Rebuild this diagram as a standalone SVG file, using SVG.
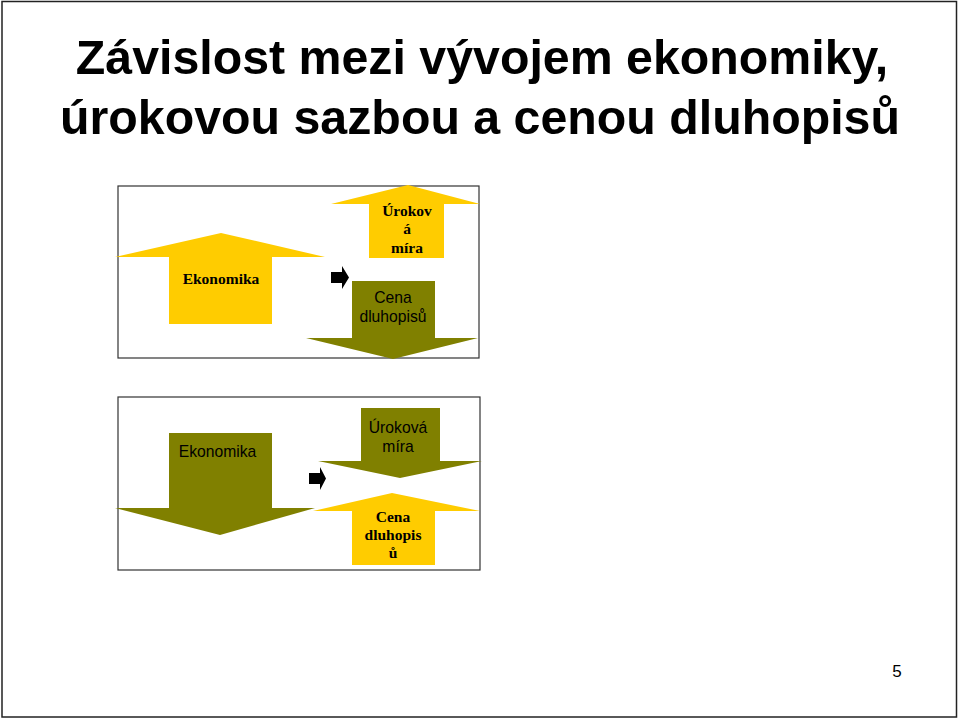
<svg xmlns="http://www.w3.org/2000/svg" width="960" height="719" viewBox="0 0 960 719">
<style>
.frame{fill:#fff;stroke:#333;stroke-width:1.2}
.yel{fill:#FFCC00}
.olv{fill:#808000}
.blk{fill:#000}
.title{font-family:"Liberation Sans",Arial,sans-serif;font-weight:bold;font-size:48.3px;fill:#000;text-anchor:middle}
.ts{font-family:"Liberation Serif","Times New Roman",serif;font-weight:bold;font-size:15.5px;fill:#000;text-anchor:middle}
.ss{font-family:"Liberation Sans",Arial,sans-serif;font-size:15.7px;fill:#000;text-anchor:middle}
</style>
<rect x="0" y="0" width="960" height="719" fill="#fff"/>
<rect x="2" y="1.5" width="954.5" height="715.5" fill="none" stroke="#222" stroke-width="1.5"/>
<g id="title">
<text class="title" x="482" y="74">Závislost mezi vývojem ekonomiky,</text>
<text class="title" x="480" y="134">úrokovou sazbou a cenou dluhopisů</text>
</g>
<g id="panel1">
<rect class="frame" x="118" y="186" width="361" height="172"/>
<g id="p1-ekonomika">
<polygon class="yel" points="169,324 169,257 115,257 221,233 325,257 272,257 272,324"/>
<text class="ts" x="221" y="284">Ekonomika</text>
</g>
<g id="p1-urokova">
<polygon class="yel" points="369,258 369,204 331,204 408,185 480,204 444,204 444,258"/>
<text class="ts" x="407" y="216">Úrokov</text>
<text class="ts" x="407" y="234">á</text>
<text class="ts" x="407" y="253">míra</text>
</g>
<g id="p1-cena">
<polygon class="olv" points="352,281 435,281 435,338 478,338 393,359 306,338 352,338"/>
<text class="ss" x="393" y="303">Cena</text>
<text class="ss" x="393" y="322">dluhopisů</text>
</g>
</g>
<g id="panel2">
<rect class="frame" x="118" y="397" width="362" height="173"/>
<g id="p2-ekonomika">
<polygon class="olv" points="169,433 272,433 272,508 315,508 220,535 115,508 169,508"/>
<text class="ss" x="217.5" y="457">Ekonomika</text>
</g>
<g id="p2-urokova">
<polygon class="olv" points="361,408 440,408 440,461 482,461 400,478 318,461 361,461"/>
<text class="ss" x="398" y="433">Úroková</text>
<text class="ss" x="398" y="452">míra</text>
</g>
<g id="p2-cena">
<polygon class="yel" points="352,565 352,511 313,511 392,493 480,511 435,511 435,565"/>
<text class="ts" x="393" y="522">Cena</text>
<text class="ts" x="393" y="540">dluhopis</text>
<text class="ts" x="393" y="558">ů</text>
</g>
</g>
<g id="connectors">
<polygon class="blk" points="331,272 342,272 342,266 349,277.5 342,289 342,283 331,283"/>
<polygon class="blk" points="309,473 320,473 320,467 326,478.5 320,490 320,484 309,484"/>
</g>
<text x="897" y="677" style="font-family:'Liberation Sans',Arial,sans-serif;font-size:17px;fill:#000;text-anchor:middle">5</text>
</svg>
